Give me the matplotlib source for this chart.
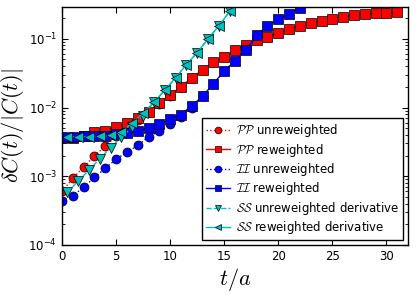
import numpy as np
import matplotlib
matplotlib.use("Agg")
import matplotlib.pyplot as plt
from matplotlib.ticker import FuncFormatter

plt.rcParams['mathtext.fontset'] = 'cm'
plt.rcParams['font.family'] = ['DejaVu Sans']

# PP (red)
t_pp_u = [0, 1, 2, 3, 4, 5, 6, 7, 8, 9, 10, 11, 12]
pp_unrew = [6.0e-4, 9.3e-4, 1.36e-3, 1.97e-3, 2.75e-3, 3.8e-3, 5.0e-3, 6.6e-3,
            8.6e-3, 1.12e-2, 1.48e-2, 1.97e-2, 2.69e-2]
t_pp_r = list(range(0, 32))
pp_rew = [3.6e-3, 3.65e-3, 3.85e-3, 4.35e-3, 4.6e-3, 5.15e-3, 5.9e-3, 7.0e-3,
          8.6e-3, 1.15e-2, 1.52e-2, 2.01e-2, 2.69e-2, 3.55e-2, 4.55e-2, 5.5e-2,
          6.8e-2, 8.2e-2, 9.5e-2, 0.108, 0.121, 0.138, 0.155, 0.169, 0.184,
          0.197, 0.210, 0.220, 0.230, 0.236, 0.241, 0.242]

# II (blue)
t_ii_u = [0, 1, 2, 3, 4, 5, 6, 7, 8, 9, 10, 11, 12, 13]
ii_unrew = [4.4e-4, 5.2e-4, 6.9e-4, 9.6e-4, 1.3e-3, 1.77e-3, 2.24e-3, 2.8e-3,
            3.75e-3, 4.5e-3, 5.7e-3, 7.3e-3, 1.0e-2, 1.46e-2]
t_ii_r = list(range(0, 24))
ii_rew = [3.7e-3, 3.72e-3, 3.8e-3, 3.85e-3, 3.9e-3, 4.05e-3, 4.25e-3, 4.5e-3,
          5.0e-3, 5.7e-3, 6.8e-3, 7.9e-3, 1.06e-2, 1.46e-2, 2.23e-2, 3.4e-2,
          4.8e-2, 6.9e-2, 0.112, 0.155, 0.193, 0.230, 0.285, 0.34]

# SS derivative (cyan), at half-integer times
t_ss = [0.5, 1.5, 2.5, 3.5, 4.5, 5.5, 6.5, 7.5, 8.5, 9.5, 10.5, 11.5, 12.5,
        13.5, 14.5, 15.5, 16.5]
ss_unrew = [5.9e-4, 8.5e-4, 1.23e-3, 1.8e-3, 2.6e-3, 3.7e-3, 5.2e-3, 7.6e-3,
            1.2e-2, 1.78e-2, 2.7e-2, 4.2e-2, 6.3e-2, 0.100, 0.154, 0.25, 0.38]
ss_rew = [3.7e-3, 3.7e-3, 3.75e-3, 3.8e-3, 3.95e-3, 4.4e-3, 6.0e-3, 8.3e-3,
          1.2e-2, 1.78e-2, 2.7e-2, 4.2e-2, 6.3e-2, 0.100, 0.154, 0.25, 0.38]

fig = plt.figure(figsize=(4.16, 2.94), dpi=100)
ax = fig.add_axes([0.149, 0.167, 0.832, 0.809])

ms = 6.5
kw = dict(ms=ms, mec='k', mew=0.5, lw=1)
ax.plot(t_pp_u, pp_unrew, ':', color='r', marker='o', **kw,
        label=r'$\mathcal{PP}$ unreweighted')
ax.plot(t_pp_r, pp_rew, '-', color='r', marker='s', **kw,
        label=r'$\mathcal{PP}$ reweighted')
ax.plot(t_ii_u, ii_unrew, ':', color='b', marker='o', **kw,
        label=r'$\mathcal{II}$ unreweighted')
ax.plot(t_ii_r, ii_rew, '-', color='b', marker='s', **kw,
        label=r'$\mathcal{II}$ reweighted')
ax.plot(t_ss, ss_unrew, '--', color='#00bfbf', marker='v', **kw,
        label=r'$\mathcal{SS}$ unreweighted derivative')
ax.plot(t_ss, ss_rew, '-', color='#00bfbf', marker='<', **kw,
        label=r'$\mathcal{SS}$ reweighted derivative')

ax.set_yscale('log')
ax.set_xlim(0, 32)
ax.set_ylim(1e-4, 0.29)
ax.set_xticks([0, 5, 10, 15, 20, 25, 30])
ax.yaxis.set_major_formatter(FuncFormatter(
    lambda v, p: r'$\mathregular{10^{%d}}$' % int(round(np.log10(v)))))
ax.tick_params(which='both', direction='in', top=True, right=True, labelsize=8.5)
ax.tick_params(which='major', length=4)
ax.tick_params(which='minor', length=2)
for s in ax.spines.values():
    s.set_linewidth(1)

ax.set_xlabel(r'$t/a$', fontsize=16, labelpad=2)
ax.set_ylabel(r'$\delta C(t)/|C(t)|$', fontsize=16, labelpad=2)

leg = ax.legend(loc='lower right', fontsize=8.5, fancybox=False, framealpha=1,
                edgecolor='k', numpoints=1, handlelength=2, borderpad=0.35,
                labelspacing=0.2, handletextpad=0.5, borderaxespad=0.4,
                markerscale=0.75)
leg.get_frame().set_linewidth(1)

fig.savefig('out.png', dpi=100)
